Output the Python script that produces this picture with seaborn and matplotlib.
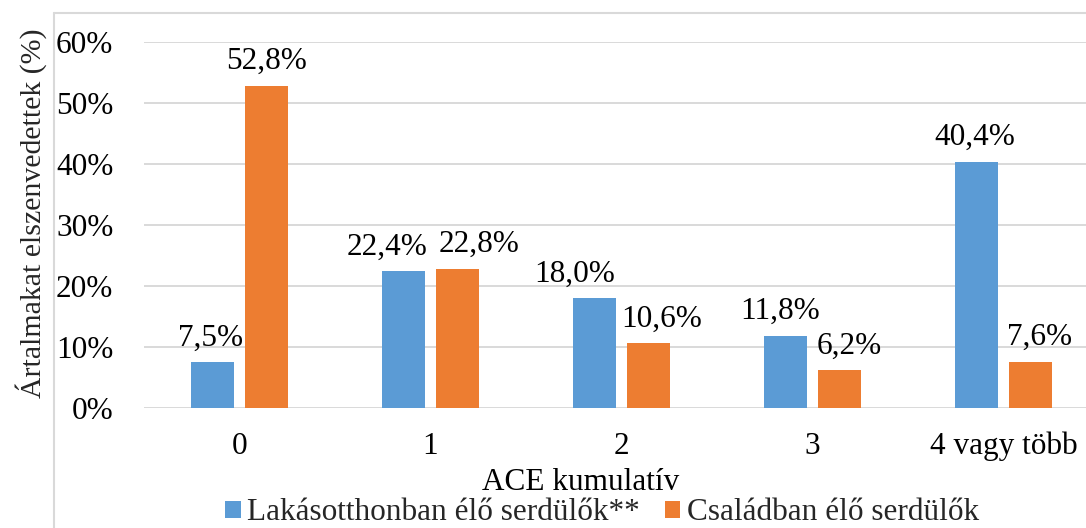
import matplotlib
matplotlib.use("Agg")
import matplotlib.pyplot as plt
from matplotlib.lines import Line2D
from matplotlib.patches import Patch
from matplotlib.ticker import FuncFormatter
import seaborn as sns
import pandas as pd

categories = ["0", "1", "2", "3", "4 vagy több"]
groups = ["Lakásotthonban élő serdülők**", "Családban élő serdülők"]
lakasotthon = [7.5, 22.4, 18.0, 11.8, 40.4]
csalad = [52.8, 22.8, 10.6, 6.2, 7.6]
yticks = [0, 10, 20, 30, 40, 50, 60]
xlabel = "ACE kumulatív"
ylabel = "Ártalmakat elszenvedettek (%)"

colors = ["#5B9BD5", "#ED7D31"]
grid_c = "#D9D9D9"

df = pd.DataFrame({
    "ACE": categories * 2,
    "value": lakasotthon + csalad,
    "group": [groups[0]] * len(categories) + [groups[1]] * len(categories),
})

sns.set_theme(style="white")
plt.rcParams["font.family"] = ["Liberation Serif", "DejaVu Serif"]
FS = 22.5

W, H = 1086, 528
fig = plt.figure(figsize=(W / 100, H / 100), dpi=100)
ax = fig.add_axes([144 / W, (H - 408) / H, 955 / W, 366 / H])

sns.barplot(data=df, x="ACE", y="value", hue="group", order=categories,
            hue_order=groups, palette=colors, width=0.565, gap=0.2,
            saturation=1, ax=ax, legend=False, edgecolor="none")

ax.set_xlim(-0.5, 4.5)
ax.set_ylim(0, 60)
ax.set_yticks(yticks)
ax.yaxis.set_major_formatter(FuncFormatter(lambda v, p: f"{v:.0f}%"))
ax.grid(axis="y", color=grid_c, linewidth=1.4)
ax.set_axisbelow(True)
for s in ax.spines.values():
    s.set_visible(False)
ax.tick_params(axis="y", length=0, pad=22, labelsize=FS, colors="black")
ax.tick_params(axis="x", length=0, pad=17, labelsize=FS, colors="black")
ax.set_xlabel("")
ax.set_ylabel("")

# label nudges (pixels) to avoid overlap, as in the reference
nudges = [[-2, -16, -20, -5, -2], [0, 22, 13, 10, 9]]
series = [lakasotthon, csalad]
for gi, cont in enumerate(ax.containers):
    labels = [f"{v:.1f}%".replace(".", ",") for v in series[gi]]
    texts = ax.bar_label(cont, labels=labels, padding=7, fontsize=FS, color="black")
    for ti, t in enumerate(texts):
        t.xyann = (nudges[gi][ti] * 0.72, 7)

fig.text(31 / W, 1 - 213 / H, ylabel, rotation=90, ha="center", va="center",
         fontsize=21.5, color="#262626")
fig.text(581 / W, 1 - 482 / H, xlabel, ha="center", va="center",
         fontsize=FS, color="black")

handles = [Patch(facecolor=c, edgecolor="none") for c in colors]
fig.legend(handles, groups, loc="center", bbox_to_anchor=(602 / W, 1 - 513 / H),
           ncol=2, frameon=False, fontsize=22.5, handlelength=0.5,
           handleheight=0.5, handletextpad=0.2, columnspacing=0.8,
           borderaxespad=0, borderpad=0)

# outer chart frame
fig.add_artist(Line2D([54 / W, 54 / W], [0, 1 - 13 / H], color=grid_c, lw=1.5,
                      transform=fig.transFigure))
fig.add_artist(Line2D([54 / W, 1], [1 - 13 / H, 1 - 13 / H], color=grid_c, lw=1.5,
                      transform=fig.transFigure))

fig.savefig("out.png", dpi=100)
